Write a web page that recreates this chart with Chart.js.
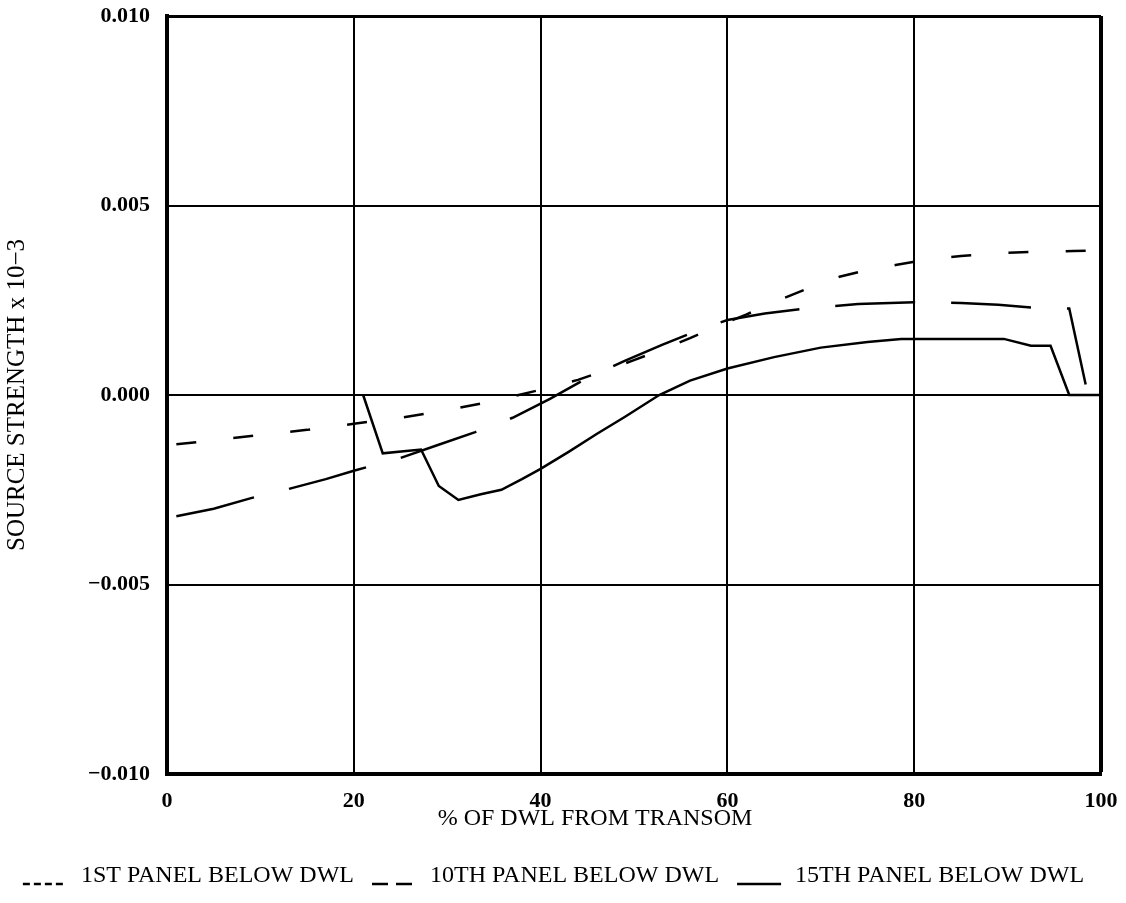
<!DOCTYPE html>
<html>
<head>
<meta charset="utf-8">
<script src="https://cdn.jsdelivr.net/npm/chart.js@4"></script>
<style>
  html, body { margin: 0; padding: 0; background: #fff; }
  #wrap { width: 1126px; height: 903px; }
</style>
</head>
<body>
<div id="wrap"><canvas id="chart" width="1126" height="903"></canvas></div>
<script>
// % of DWL from transom vs source strength
const panel1X = [1, 5, 10, 15, 20, 25, 30, 35, 38, 41, 44, 47, 50, 53, 56, 59, 62, 65, 68.5, 72, 75, 78, 81, 85, 89, 93, 97, 100];
const panel1Y = [-0.00130, -0.00120, -0.00105, -0.00092, -0.00076, -0.00060, -0.00040, -0.00016, 0.00002, 0.00020, 0.00040, 0.00065, 0.00092, 0.00120, 0.00150, 0.00182, 0.00212, 0.00245, 0.00280, 0.00312, 0.00330, 0.00343, 0.00356, 0.00367, 0.00374, 0.00378, 0.00380, 0.00381];

const panel10X = [1, 5, 9, 13, 17, 20, 25, 29, 33, 37, 41, 45, 49, 53, 57, 60, 64, 69, 74, 80, 85, 89, 93, 96.6, 98.6];
const panel10Y = [-0.00320, -0.00300, -0.00272, -0.00248, -0.00222, -0.00200, -0.00166, -0.00132, -0.00098, -0.00060, -0.00010, 0.00045, 0.00090, 0.00132, 0.00172, 0.00198, 0.00215, 0.00230, 0.00240, 0.00245, 0.00243, 0.00238, 0.00230, 0.00228, 0.0];

const panel15X = [21, 23.1, 27.2, 29.1, 31.2, 33.6, 35.8, 38, 40, 43, 46, 49, 52.7, 56, 60, 65, 70, 75, 78.6, 89.6, 92.5, 94.6, 96.6, 100];
const panel15Y = [0, -0.00154, -0.00144, -0.00240, -0.00277, -0.00262, -0.00250, -0.00222, -0.00195, -0.00150, -0.00103, -0.00058, 0, 0.00038, 0.00070, 0.00100, 0.00125, 0.00140, 0.00148, 0.00148, 0.00130, 0.00130, 0, 0];

const seriesNames = ["1ST PANEL BELOW DWL", "10TH PANEL BELOW DWL", "15TH PANEL BELOW DWL"];
const xTicks = [0, 20, 40, 60, 80, 100];
const yTicks = [-0.010, -0.005, 0.000, 0.005, 0.010];

const serif = "'Liberation Serif', 'Times New Roman', serif";

function toPoints(xs, ys) {
  return xs.map((x, i) => ({ x: x, y: ys[i] }));
}

// little line samples for the legend, drawn at the text baseline
function makeSwatch(dash) {
  const c = document.createElement("canvas");
  c.width = 52;
  c.height = 24;
  const g = c.getContext("2d");
  g.strokeStyle = "#000";
  g.lineWidth = 2.5;
  g.setLineDash(dash);
  g.beginPath();
  g.moveTo(6, 20);
  g.lineTo(50, 20);
  g.stroke();
  return c;
}

const swatches = [makeSwatch([7, 4]), makeSwatch([16, 8]), makeSwatch([])];

function lineSet(label, xs, ys, dash) {
  return {
    label: label,
    data: toPoints(xs, ys),
    borderColor: "#000",
    borderWidth: 2.5,
    borderDash: dash,
    pointRadius: 0,
    tension: 0,
    fill: false,
  };
}

function fmtY(v) {
  if (Math.abs(v) < 1e-9) return "0.000";
  return (v < 0 ? "\u2212" : "") + Math.abs(v).toFixed(3);
}

new Chart(document.getElementById("chart"), {
  type: "line",
  data: {
    datasets: [
      lineSet(seriesNames[0], panel1X, panel1Y, [20, 37.3]),
      lineSet(seriesNames[1], panel10X, panel10Y, [80, 36]),
      lineSet(seriesNames[2], panel15X, panel15Y, []),
    ],
  },
  options: {
    responsive: false,
    animation: false,
    layout: { padding: { left: 0, top: 16, right: 25, bottom: 5 } },
    scales: {
      x: {
        type: "linear",
        min: 0,
        max: 100,
        afterBuildTicks: (scale) => {
          scale.ticks = xTicks.map((v) => ({ value: v }));
        },
        afterFit: (scale) => {
          scale.height = 78;
          scale.paddingLeft = 0;
          scale.paddingRight = 0;
        },
        grid: {
          color: "#000",
          lineWidth: (ctx) => (ctx.tick && ctx.tick.value >= 100 ? 4 : 2),
          drawTicks: false,
        },
        border: { color: "#000", width: 4 },
        ticks: {
          color: "#000",
          padding: 14,
          maxRotation: 0,
          font: { family: serif, size: 22, weight: "bold" },
        },
        title: {
          display: true,
          // trailing spaces push the centred title left, as in the original
          text: "% OF DWL FROM TRANSOM" + "\u00a0".repeat(13),
          color: "#000",
          font: { family: serif, size: 24 },
          padding: { top: 0, bottom: 19 },
        },
      },
      y: {
        type: "linear",
        min: -0.01,
        max: 0.01,
        afterBuildTicks: (scale) => {
          scale.ticks = yTicks.map((v) => ({ value: v }));
        },
        afterFit: (scale) => {
          scale.width = 167;
          scale.paddingTop = 0;
          scale.paddingBottom = 0;
        },
        grid: {
          color: "#000",
          lineWidth: (ctx) => (ctx.tick && ctx.tick.value >= 0.0099 ? 3 : 2),
          drawTicks: false,
        },
        border: { color: "#000", width: 4 },
        ticks: {
          color: "#000",
          padding: 17,
          callback: fmtY,
          font: { family: serif, size: 22, weight: "bold" },
        },
        title: {
          display: true,
          text: "SOURCE STRENGTH x 10\u22123",
          color: "#000",
          font: { family: serif, size: 25 },
          padding: { top: 2, bottom: 0 },
        },
      },
    },
    plugins: {
      tooltip: { enabled: false },
      legend: {
        position: "bottom",
        labels: {
          color: "#000",
          font: { family: serif, size: 24 },
          usePointStyle: true,
          pointStyleWidth: 52,
          padding: 12,
          generateLabels: (chart) =>
            chart.data.datasets.map((ds, i) => ({
              text: ds.label,
              datasetIndex: i,
              pointStyle: swatches[i],
              fillStyle: "rgba(0,0,0,0)",
              strokeStyle: "#000",
              lineWidth: 0,
              hidden: false,
              fontColor: "#000",
            })),
        },
      },
    },
  },
});
</script>
</body>
</html>
